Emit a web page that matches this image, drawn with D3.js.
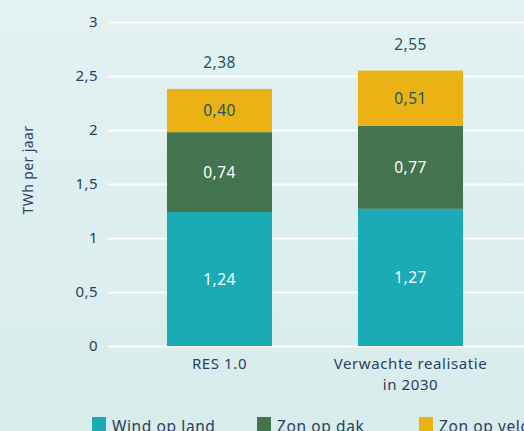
<!DOCTYPE html>
<html>
<head>
<meta charset="utf-8">
<script src="https://cdn.jsdelivr.net/npm/d3@7"></script>
<style>
  html, body { margin: 0; padding: 0; overflow: hidden; }
  svg { display: block; font-family: "Noto Sans", "Open Sans", sans-serif; }
</style>
</head>
<body>
<div id="chart"></div>
<script>
let width = 524
let height = 431

// data
var categories = ["RES 1.0", "Verwachte realisatie|in 2030"];
var series = ["Wind op land", "Zon op dak", "Zon op veld"];
var windOpLand = [1.24, 1.27];
var zonOpDak = [0.74, 0.77];
var zonOpVeld = [0.40, 0.51];
var totals = [2.38, 2.55];
var yTicks = [0, 0.5, 1, 1.5, 2, 2.5, 3];

var colors = ["#1aabb6", "#42744e", "#ebb215"];
var labelColors = ["#ffffff", "#ffffff", "#1b5661"];
var textColor = "#2b3f5e";

var svg = d3.select("#chart")
    .append("svg")
    .attr("width", width)
    .attr("height", height);

var defs = svg.append("defs");
var grad = defs.append("linearGradient")
    .attr("id", "bg")
    .attr("x1", 0).attr("y1", 0).attr("x2", 0).attr("y2", 1);
grad.append("stop").attr("offset", "0%").attr("stop-color", "#e3f1f1");
grad.append("stop").attr("offset", "100%").attr("stop-color", "#d8ecec");

svg.append("rect")
    .attr("width", width)
    .attr("height", height)
    .attr("fill", "url(#bg)");

var rows = categories.map(function(c, i) {
    return { cat: c, "Wind op land": windOpLand[i], "Zon op dak": zonOpDak[i], "Zon op veld": zonOpVeld[i], total: totals[i] };
});
var stacked = d3.stack().keys(series)(rows);

var xScale = d3.scaleBand()
    .domain(categories)
    .range([124, 506])
    .paddingInner(0.45)
    .paddingOuter(0.225);

var yScale = d3.scaleLinear()
    .domain([0, 3])
    .range([346, 22]);

// gridlines + tick labels
var yAxis = d3.axisLeft(yScale)
    .tickValues(yTicks)
    .tickSize(0)
    .tickPadding(10)
    .tickFormat(function(d) { return String(d).replace(".", ","); });

var gy = svg.append("g")
    .attr("transform", "translate(108,0)")
    .call(yAxis);
gy.select(".domain").remove();
gy.selectAll("text")
    .attr("fill", textColor)
    .attr("font-size", 15)
    .attr("letter-spacing", 0.4)
    .attr("font-family", "Noto Sans, sans-serif");
gy.selectAll(".tick").append("line")
    .attr("x1", 0)
    .attr("x2", width - 108)
    .attr("stroke", "#ffffff")
    .attr("stroke-width", 2.2);

// bars
var layers = svg.selectAll("g.layer")
    .data(stacked)
    .enter()
    .append("g")
    .attr("class", "layer")
    .attr("fill", function(d, i) { return colors[i]; });

layers.selectAll("rect")
    .data(function(d) { return d; })
    .enter()
    .append("rect")
    .attr("x", function(d) { return xScale(d.data.cat); })
    .attr("width", xScale.bandwidth())
    .attr("y", function(d) { return yScale(d[1]); })
    .attr("height", function(d) { return yScale(d[0]) - yScale(d[1]); });

// segment labels
stacked.forEach(function(layer, i) {
    svg.append("g").selectAll("text")
        .data(layer)
        .enter()
        .append("text")
        .attr("x", function(d) { return xScale(d.data.cat) + xScale.bandwidth() / 2; })
        .attr("y", function(d) { return (yScale(d[0]) + yScale(d[1])) / 2 + 5.5; })
        .attr("text-anchor", "middle")
        .attr("font-size", 15.5)
        .attr("letter-spacing", 0.4)
        .attr("fill", labelColors[i])
        .text(function(d) { return (d[1] - d[0]).toFixed(2).replace(".", ","); });
});

// totals
svg.append("g").selectAll("text")
    .data(rows)
    .enter()
    .append("text")
    .attr("x", function(d) { return xScale(d.cat) + xScale.bandwidth() / 2; })
    .attr("y", function(d) { return yScale(d.total) - 21; })
    .attr("text-anchor", "middle")
    .attr("font-size", 15.5)
    .attr("letter-spacing", 0.4)
    .attr("fill", "#1b5661")
    .text(function(d) { return d.total.toFixed(2).replace(".", ","); });

// category labels
categories.forEach(function(c) {
    var lines = c.split("|");
    var t = svg.append("text")
        .attr("x", xScale(c) + xScale.bandwidth() / 2)
        .attr("y", 369)
        .attr("text-anchor", "middle")
        .attr("font-size", 15)
        .attr("letter-spacing", 0.6)
        .attr("fill", textColor);
    lines.forEach(function(l, j) {
        t.append("tspan")
            .attr("x", xScale(c) + xScale.bandwidth() / 2)
            .attr("dy", j === 0 ? 0 : 21)
            .text(l);
    });
});

// y axis title
svg.append("text")
    .attr("transform", "translate(33,170)rotate(-90)")
    .attr("text-anchor", "middle")
    .attr("font-size", 14)
    .attr("letter-spacing", 0.4)
    .attr("fill", textColor)
    .text("TWh per jaar");

// legend
var legendX = [92, 257, 419];
var legend = svg.selectAll("g.legend")
    .data(series)
    .enter()
    .append("g")
    .attr("class", "legend")
    .attr("transform", function(d, i) { return "translate(" + legendX[i] + ",417)"; });
legend.append("rect")
    .attr("width", 14)
    .attr("height", 14)
    .attr("fill", function(d, i) { return colors[i]; });
legend.append("text")
    .attr("x", 20)
    .attr("y", 15)
    .attr("font-size", 15.5)
    .attr("letter-spacing", 0.6)
    .attr("fill", textColor)
    .text(function(d) { return d; });
</script>
</body>
</html>
